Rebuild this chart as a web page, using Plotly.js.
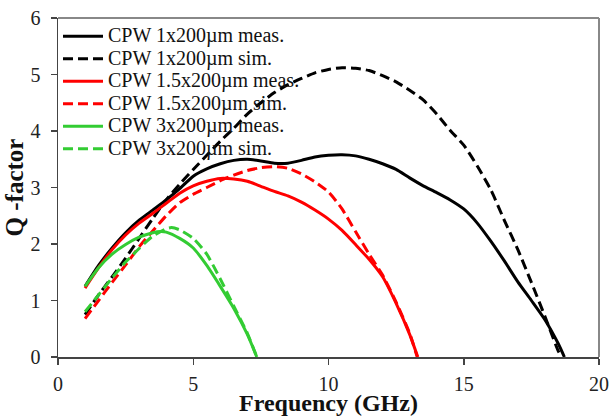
<!DOCTYPE html>
<html>
<head>
<meta charset="utf-8">
<script src="https://cdn.plot.ly/plotly-3.0.1.min.js"></script>
<style>html,body{margin:0;padding:0;background:#fff;}#chart{width:613px;height:416px;}</style>
</head>
<body>
<div id="chart"></div>
<script>
// ---- data ----
var names = ["CPW 1x200µm meas.", "CPW 1x200µm sim.", "CPW 1.5x200µm meas.", "CPW 1.5x200µm sim.", "CPW 3x200µm meas.", "CPW 3x200µm sim."];

var blackMeasX = [1.0,1.5,2.0,2.5,3.0,3.5,4.0,4.5,5.0,5.5,6.0,6.5,7.0,7.5,8.0,8.5,9.0,9.5,10.0,10.5,11.0,11.5,12.0,12.5,13.0,13.5,14.0,14.5,15.0,15.5,16.0,16.5,17.0,17.5,18.0,18.5,18.72];
var blackMeasY = [1.25,1.62,1.93,2.20,2.42,2.60,2.78,2.98,3.20,3.33,3.42,3.48,3.50,3.47,3.43,3.43,3.48,3.54,3.57,3.58,3.56,3.50,3.42,3.32,3.17,3.03,2.91,2.78,2.62,2.37,2.05,1.70,1.33,1.00,0.66,0.23,0.0];

var blackSimX = [1.0,1.5,2.0,2.5,3.0,3.5,4.0,4.5,5.0,5.5,6.0,6.5,7.0,7.5,8.0,8.5,9.0,9.5,10.0,10.5,11.0,11.5,12.0,12.5,13.0,13.5,14.0,14.5,15.0,15.5,16.0,16.5,17.0,17.5,18.0,18.5,18.62];
var blackSimY = [0.75,1.10,1.42,1.75,2.10,2.45,2.78,3.06,3.32,3.57,3.82,4.05,4.30,4.50,4.68,4.82,4.93,5.03,5.09,5.12,5.11,5.07,4.98,4.87,4.72,4.55,4.30,4.01,3.75,3.38,2.96,2.42,1.90,1.32,0.72,0.10,0.0];

var redMeasX = [1.0,1.5,2.0,2.5,3.0,3.5,4.0,4.5,5.0,5.5,6.0,6.5,7.0,7.5,8.0,8.5,9.0,9.5,10.0,10.5,11.0,11.5,12.0,12.5,13.0,13.3];
var redMeasY = [1.22,1.58,1.90,2.16,2.37,2.54,2.72,2.90,3.03,3.11,3.16,3.15,3.11,3.02,2.93,2.85,2.74,2.60,2.44,2.24,1.99,1.73,1.42,0.95,0.40,0.0];

var redSimX = [1.0,1.5,2.0,2.5,3.0,3.5,4.0,4.5,5.0,5.5,6.0,6.5,7.0,7.5,8.0,8.5,9.0,9.5,10.0,10.5,11.0,11.5,12.0,12.5,13.0,13.28];
var redSimY = [0.68,1.00,1.32,1.63,1.95,2.23,2.50,2.73,2.88,3.00,3.12,3.22,3.30,3.35,3.37,3.34,3.24,3.10,2.92,2.62,2.22,1.82,1.45,0.97,0.42,0.0];

var greenMeasX = [1.0,1.5,2.0,2.5,3.0,3.5,3.8,4.0,4.5,5.0,5.5,6.0,6.5,7.0,7.35];
var greenMeasY = [1.25,1.58,1.82,1.99,2.12,2.20,2.22,2.21,2.10,1.93,1.62,1.25,0.86,0.40,0.0];

var greenSimX = [1.0,1.5,2.0,2.5,3.0,3.5,4.0,4.2,4.5,5.0,5.5,6.0,6.5,7.0,7.35];
var greenSimY = [0.80,1.10,1.40,1.68,1.92,2.14,2.27,2.29,2.25,2.10,1.82,1.38,0.90,0.42,0.0];

var xTicks = [0,5,10,15,20];
var yTicks = [0,1,2,3,4,5,6];

// ---- styling ----
var serif = "'Liberation Serif', 'Times New Roman', serif";
var GREEN = "#33cc33";
var xs = [blackMeasX, blackSimX, redMeasX, redSimX, greenMeasX, greenSimX];
var ys = [blackMeasY, blackSimY, redMeasY, redSimY, greenMeasY, greenSimY];
var colors = ["#000000", "#000000", "#ff0000", "#ff0000", GREEN, GREEN];
var dashes = ["solid", "10px,5px", "solid", "10px,5px", "solid", "10px,5px"];

var traces = names.map(function (n, i) {
  return {
    x: xs[i], y: ys[i], name: '<span style="font-size:20px">' + n + '</span>',
    type: "scatter", mode: "lines",
    line: {color: colors[i], width: 3, dash: dashes[i], shape: "spline", smoothing: 0.6}
  };
});

var layout = {
  width: 613, height: 416,
  margin: {l: 58, r: 14, t: 17.5, b: 58.5, pad: 0},
  paper_bgcolor: "#ffffff", plot_bgcolor: "#ffffff",
  showlegend: true,
  legend: {
    x: 0.0, y: 0.994, xanchor: "left", yanchor: "top",
    bgcolor: "rgba(0,0,0,0)", borderwidth: 0,
    font: {family: serif, size: 15, color: "#111"},
    itemwidth: 40, tracegroupgap: 0
  },
  xaxis: {
    range: [0, 20], tickvals: xTicks, ticktext: xTicks.map(String),
    ticks: "outside", ticklen: 6, tickwidth: 1.5, tickcolor: "#444",
    showline: true, linecolor: "#444", linewidth: 1.5,
    showgrid: false, zeroline: false, ticklabelstandoff: 2,
    tickfont: {family: serif, size: 20, color: "#222"},
    title: {text: "<b>Frequency (GHz)</b>", font: {family: serif, size: 24, color: "#111"}, standoff: 6}
  },
  yaxis: {
    range: [0, 6], tickvals: yTicks, ticktext: yTicks.map(String),
    ticks: "outside", ticklen: 6, tickwidth: 1.5, tickcolor: "#444",
    showline: true, linecolor: "#444", linewidth: 1.5,
    showgrid: false, zeroline: false, ticklabelstandoff: 6,
    tickfont: {family: serif, size: 20, color: "#222"},
    title: {text: "<b>Q -factor</b>", font: {family: serif, size: 25, color: "#111"}, standoff: 0}
  },
  shapes: [
    {type: "line", xref: "paper", yref: "paper", x0: 0, x1: 1, y0: 1, y1: 1, line: {color: "#888", width: 2}},
    {type: "line", xref: "paper", yref: "paper", x0: 1, x1: 1, y0: 0, y1: 1, line: {color: "#888", width: 2}}
  ]
};

Plotly.newPlot("chart", traces, layout, {displayModeBar: false, staticPlot: true});
</script>
</body>
</html>
